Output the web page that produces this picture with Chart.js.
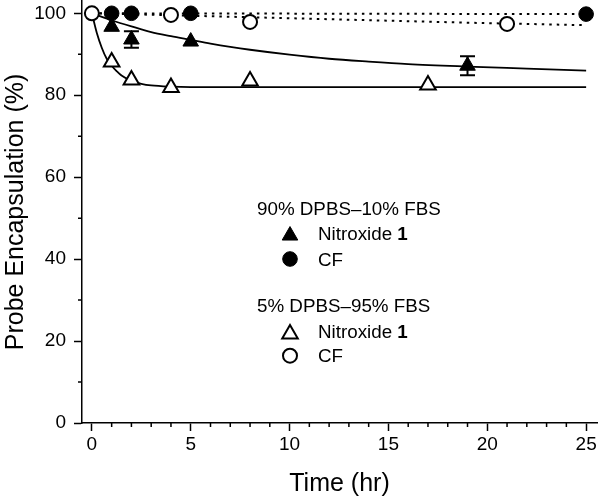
<!DOCTYPE html>
<html>
<head>
<meta charset="utf-8">
<script src="https://cdn.jsdelivr.net/npm/chart.js@4.4.0/dist/chart.umd.min.js"></script>
<style>
  html, body { margin: 0; padding: 0; background: #fff; }
</style>
</head>
<body>
<canvas id="chart" width="600" height="501"></canvas>
<script>
// measured points (hr, %)
const triFilledT = [1, 2, 5, 19];
const triFilledY = [96.7, 93.6, 93.1, 87.2];
const triFilledErr = [0, 2.0, 0, 2.3];
const circFilledT = [1, 2, 5, 25];
const circFilledY = [100, 100, 100, 99.8];
const triOpenT = [1, 2, 4, 8, 17];
const triOpenY = [88.1, 83.7, 81.9, 83.5, 82.5];
const circOpenT = [0, 4, 8, 21];
const circOpenY = [100, 99.6, 97.9, 97.4];

// fitted curves
const fitFilledT = [0, 1, 2, 3, 4, 5, 6, 7, 8, 10, 12, 14, 16, 19, 22, 25];
const fitFilledY = [100, 98.3, 96.8, 95.4, 94.4, 93.5, 92.6, 91.8, 91.1, 89.9, 88.9, 88.2, 87.6, 87.0, 86.5, 86.0];
const fitOpenT = [0, 0.25, 0.5, 0.75, 1, 1.25, 1.5, 2, 2.5, 3, 4, 5, 25];
const fitOpenY = [100, 95.2, 91.6, 88.9, 87.2, 85.9, 84.8, 83.5, 82.8, 82.4, 82.1, 82.0, 82.0];
const cfFilledLineT = [0, 25];
const cfFilledLineY = [100, 99.8];
const cfOpenLineT = [0, 5, 10, 15, 20, 25];
const cfOpenLineY = [100, 99.4, 98.8, 98.2, 97.6, 97.1];

const xTicks = [0, 5, 10, 15, 20, 25];
const xMinor = Array.from({ length: 26 }, (_, i) => i).filter((v) => v % 5);
const yTicks = [0, 20, 40, 60, 80, 100];
const yMinor = [10, 30, 50, 70, 90];

const legendGroups = ["90% DPBS\u201310% FBS", "5% DPBS\u201395% FBS"];

const FONT = "'Liberation Sans', Arial, sans-serif";
const LEG_FONT = 18.8;
const pts = (xs, ys) => xs.map((x, i) => ({ x, y: ys[i] }));

const marker = (style, fill, r) => ({
  showLine: false,
  pointStyle: style,
  pointRadius: r,
  pointHoverRadius: r,
  backgroundColor: fill,
  borderColor: "#000",
  borderWidth: fill === "#000" ? 1 : 2,
  clip: false,
});
const curve = (dash) => ({
  showLine: true,
  pointRadius: 0,
  borderColor: "#000",
  borderWidth: dash ? 2 : 1.8,
  borderDash: dash ? [2.5, 5] : [],
  cubicInterpolationMode: "monotone",
  fill: false,
});

const styles = {
  triFilled: marker("triangle", "#000", 9),
  circFilled: marker("circle", "#000", 7.3),
  triOpen: marker("triangle", "#fff", 9),
  circOpen: marker("circle", "#fff", 7),
};

const extras = {
  id: "extras",
  afterDraw(chart) {
    const { ctx, chartArea, scales } = chart;
    const { x, y } = scales;
    ctx.save();
    ctx.strokeStyle = "#000";
    ctx.lineWidth = 1.5;
    // minor ticks
    ctx.beginPath();
    xMinor.forEach((v) => {
      const px = x.getPixelForValue(v);
      ctx.moveTo(px, chartArea.bottom);
      ctx.lineTo(px, chartArea.bottom + 4);
    });
    yMinor.forEach((v) => {
      const py = y.getPixelForValue(v);
      ctx.moveTo(chartArea.left, py);
      ctx.lineTo(chartArea.left - 4, py);
    });
    ctx.stroke();

    // error bars
    ctx.lineWidth = 2;
    triFilledErr.forEach((e, i) => {
      if (!e) return;
      const px = x.getPixelForValue(triFilledT[i]);
      const top = y.getPixelForValue(triFilledY[i] + e);
      const bot = y.getPixelForValue(triFilledY[i] - e);
      ctx.beginPath();
      ctx.moveTo(px, top); ctx.lineTo(px, bot);
      ctx.moveTo(px - 7.5, top); ctx.lineTo(px + 7.5, top);
      ctx.moveTo(px - 7.5, bot); ctx.lineTo(px + 7.5, bot);
      ctx.stroke();
    });

    // legend
    ctx.textBaseline = "alphabetic";
    const rows = [
      [legendGroups[0], 215, [[styles.triFilled, 233.3, "Nitroxide ", "1"], [styles.circFilled, 259, "CF", ""]]],
      [legendGroups[1], 311.7, [[styles.triOpen, 331.7, "Nitroxide ", "1"], [styles.circOpen, 355.7, "CF", ""]]],
    ];
    rows.forEach(([title, ty, items]) => {
      ctx.fillStyle = "#000";
      ctx.font = `${LEG_FONT}px ${FONT}`;
      ctx.fillText(title, 257, ty);
      items.forEach(([st, cy, label, bold]) => {
        const r = st.pointRadius;
        ctx.fillStyle = st.backgroundColor;
        ctx.strokeStyle = "#000";
        ctx.lineWidth = st.borderWidth;
        ctx.beginPath();
        if (st.pointStyle === "triangle") {
          const c = cy + r * 0.25;
          ctx.moveTo(290, c - r);
          ctx.lineTo(290 + r * 0.866, c + r / 2);
          ctx.lineTo(290 - r * 0.866, c + r / 2);
          ctx.closePath();
        } else {
          ctx.arc(290, cy, r, 0, Math.PI * 2);
        }
        ctx.fill();
        ctx.stroke();
        ctx.fillStyle = "#000";
        ctx.font = `${LEG_FONT}px ${FONT}`;
        ctx.fillText(label, 318, cy + 6.5);
        if (bold) {
          const w = ctx.measureText(label).width;
          ctx.font = `bold ${LEG_FONT}px ${FONT}`;
          ctx.fillText(bold, 318 + w, cy + 6.5);
        }
      });
    });
    ctx.restore();
  },
};

new Chart(document.getElementById("chart"), {
  type: "scatter",
  data: {
    datasets: [
      { label: "CF 95% FBS", data: pts(circOpenT, circOpenY), ...styles.circOpen },
      { label: "Nitroxide 1 95% FBS", data: pts(triOpenT, triOpenY), ...styles.triOpen },
      { label: "CF 10% FBS", data: pts(circFilledT, circFilledY), ...styles.circFilled },
      { label: "Nitroxide 1 10% FBS", data: pts(triFilledT, triFilledY), ...styles.triFilled },
      { label: "fit 1", data: pts(fitFilledT, fitFilledY), ...curve(false) },
      { label: "fit 2", data: pts(fitOpenT, fitOpenY), ...curve(false) },
      { label: "fit 3", data: pts(cfFilledLineT, cfFilledLineY), ...curve(true) },
      { label: "fit 4", data: pts(cfOpenLineT, cfOpenLineY), ...curve(true) },
    ],
  },
  options: {
    responsive: false,
    animation: false,
    devicePixelRatio: 1,
    layout: { autoPadding: false, padding: { top: 1, right: 3, left: 0, bottom: 0 } },
    plugins: { legend: { display: false }, tooltip: { enabled: false } },
    scales: {
      x: {
        type: "linear",
        min: -0.5,
        max: 25.55,
        afterFit: (s) => { s.height = 78; s.paddingLeft = 0; s.paddingRight = 0; },
        afterBuildTicks: (s) => { s.ticks = xTicks.map((v) => ({ value: v })); },
        ticks: { color: "#000", font: { size: 19, family: FONT }, padding: 2, autoSkip: false, maxRotation: 0 },
        grid: { drawOnChartArea: false, tickLength: 8, tickWidth: 1.5, tickColor: "#000" },
        border: { color: "#000", width: 1.5 },
        title: { display: true, text: "Time (hr)", color: "#000", font: { size: 25, family: FONT }, padding: { top: 0, bottom: 2 } },
      },
      y: {
        min: 0,
        max: 103,
        afterFit: (s) => { s.width = 82; s.paddingTop = 0; s.paddingBottom = 0; },
        afterBuildTicks: (s) => { s.ticks = yTicks.map((v) => ({ value: v })); },
        ticks: { color: "#000", font: { size: 19, family: FONT }, padding: 8 },
        grid: { drawOnChartArea: false, tickLength: 8, tickWidth: 1.5, tickColor: "#000" },
        border: { color: "#000", width: 1.5 },
        title: { display: true, text: "Probe Encapsulation (%)", color: "#000", font: { size: 25, family: FONT }, padding: { top: 1, bottom: 0 } },
      },
    },
  },
  plugins: [extras],
});
</script>
</body>
</html>
